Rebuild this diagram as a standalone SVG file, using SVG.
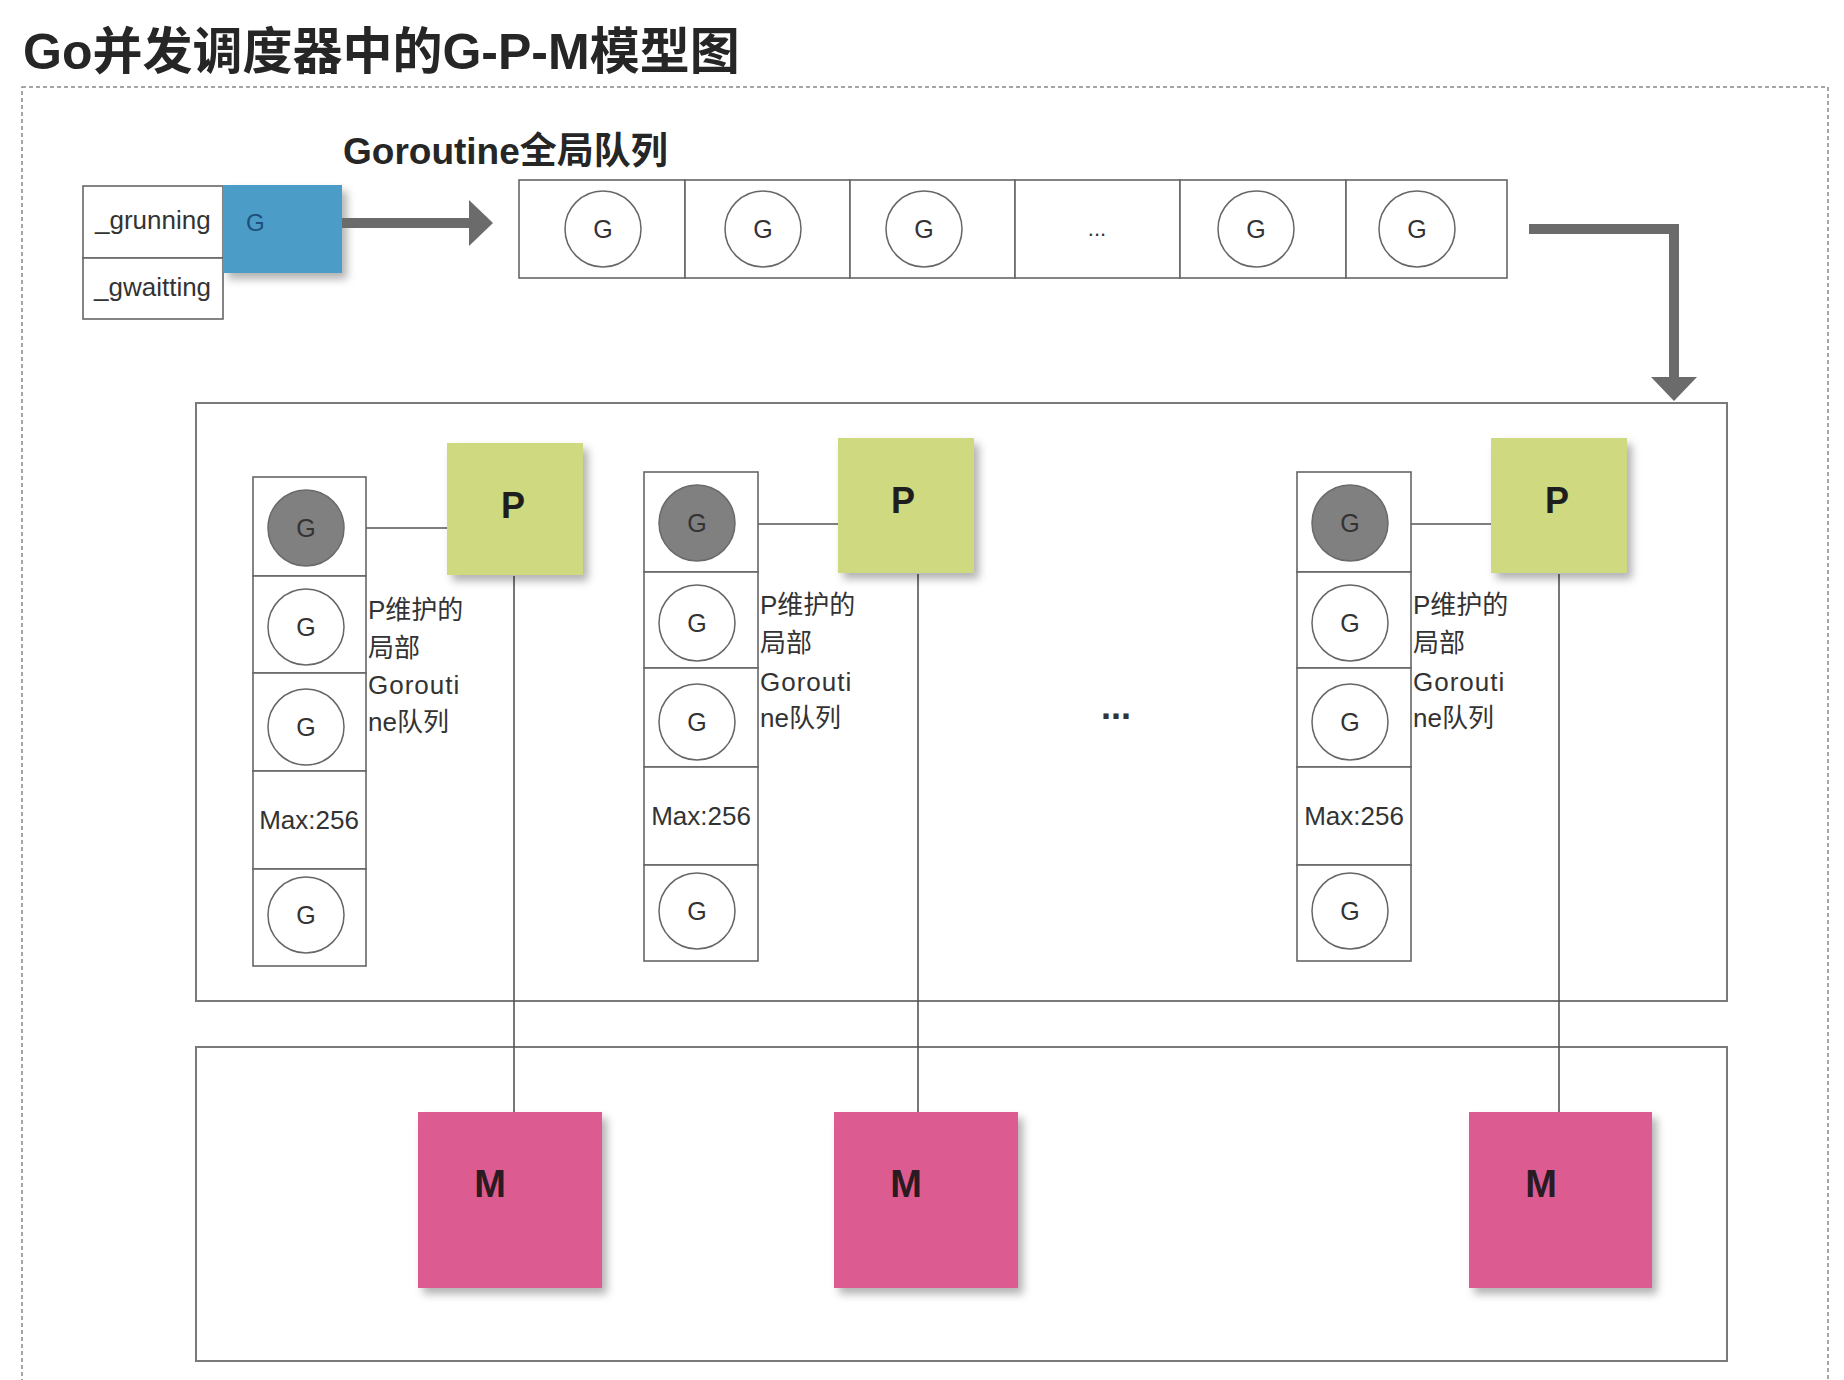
<svg xmlns="http://www.w3.org/2000/svg" width="1844" height="1380" viewBox="0 0 1844 1380">
<defs>
<filter id="sh" x="-20%" y="-20%" width="150%" height="150%">
<feDropShadow dx="5" dy="6" stdDeviation="4" flood-color="#000" flood-opacity="0.3"/>
</filter>
<style>
text{font-family:"Liberation Sans","Noto Sans CJK SC",sans-serif;fill:#333}
.cell{fill:#fff;stroke:#666;stroke-width:1.6}
.g{fill:#fff;stroke:#666;stroke-width:1.5}
.gd{fill:#808080;stroke:#6a6a6a;stroke-width:1.5}
.gt{font-size:25px;text-anchor:middle}
.frame{fill:none;stroke:#7a7a7a;stroke-width:2}
.lbl{font-size:26px}
.p{fill:#cfd97f;filter:url(#sh)}
.m{fill:#dc5b91;filter:url(#sh)}
.pt{font-size:36px;font-weight:bold;fill:#1e1e1e;text-anchor:middle}
.mt{font-size:38px;font-weight:bold;fill:#2a1a22;text-anchor:middle}
.ln{stroke:#555;stroke-width:1.6;fill:none}
.arr{fill:#6b6b6b}
</style>
</defs>
<rect width="1844" height="1380" fill="#fff"/>

<g id="title">
<text x="23" y="69" font-size="50" font-weight="bold" fill="#262626" style="fill:#262626">Go并发调度器中的G-P-M模型图</text>
</g>

<g id="outer-frame">
<rect x="22" y="87" width="1806" height="1320" fill="none" stroke="#888" stroke-width="1.5" stroke-dasharray="4 3"/>
</g>

<g id="status-table">
<rect class="cell" x="83" y="186" width="140" height="72"/>
<rect class="cell" x="83" y="258" width="140" height="61"/>
<text x="95" y="229" font-size="26">_grunning</text>
<text x="94" y="296" font-size="26">_gwaitting</text>
</g>

<g id="running-g">
<rect x="223" y="185" width="119" height="88" fill="#4b9cc7" filter="url(#sh)"/>
<text x="246" y="231" font-size="24" style="fill:#1d4f7c">G</text>
</g>

<g id="global-queue-label">
<text x="343" y="164" font-size="37" font-weight="bold" style="fill:#262626">Goroutine全局队列</text>
</g>

<g id="global-queue">
<rect class="cell" x="519" y="180" width="166" height="98"/>
<rect class="cell" x="685" y="180" width="165" height="98"/>
<rect class="cell" x="850" y="180" width="165" height="98"/>
<rect class="cell" x="1015" y="180" width="165" height="98"/>
<rect class="cell" x="1180" y="180" width="166" height="98"/>
<rect class="cell" x="1346" y="180" width="161" height="98"/>
<circle class="g" cx="603" cy="229" r="38"/>
<circle class="g" cx="763" cy="229" r="38"/>
<circle class="g" cx="924" cy="229" r="38"/>
<circle class="g" cx="1256" cy="229" r="38"/>
<circle class="g" cx="1417" cy="229" r="38"/>
<text class="gt" x="603" y="238">G</text>
<text class="gt" x="763" y="238">G</text>
<text class="gt" x="924" y="238">G</text>
<text class="gt" x="1256" y="238">G</text>
<text class="gt" x="1417" y="238">G</text>
<text x="1097" y="236" font-size="22" text-anchor="middle">...</text>
</g>

<g id="p-area">
<rect class="frame" x="196" y="403" width="1531" height="598"/>
</g>
<g id="m-area">
<rect class="frame" x="196" y="1047" width="1531" height="314"/>
</g>

<g id="connectors">
<rect class="arr" x="342" y="218" width="130" height="10"/>
<polygon class="arr" points="469,200 493,223 469,246"/>
<polygon class="arr" points="1529,224 1679,224 1679,378 1669,378 1669,234 1529,234"/>
<polygon class="arr" points="1651,377 1697,377 1674,401"/>
<line class="ln" x1="366" y1="528" x2="447" y2="528"/>
<line class="ln" x1="758" y1="524" x2="838" y2="524"/>
<line class="ln" x1="1411" y1="524" x2="1491" y2="524"/>
<line class="ln" x1="514" y1="576" x2="514" y2="1112"/>
<line class="ln" x1="918" y1="574" x2="918" y2="1112"/>
<line class="ln" x1="1559" y1="574" x2="1559" y2="1112"/>
</g>

<g id="local-queue-1">
<rect class="cell" x="253" y="477" width="113" height="99"/>
<rect class="cell" x="253" y="576" width="113" height="97"/>
<rect class="cell" x="253" y="673" width="113" height="98"/>
<rect class="cell" x="253" y="771" width="113" height="98"/>
<rect class="cell" x="253" y="869" width="113" height="97"/>
<circle class="gd" cx="306" cy="528" r="38"/>
<circle class="g" cx="306" cy="627" r="38"/>
<circle class="g" cx="306" cy="727" r="38"/>
<circle class="g" cx="306" cy="915" r="38"/>
<text class="gt" x="306" y="537">G</text>
<text class="gt" x="306" y="636">G</text>
<text class="gt" x="306" y="736">G</text>
<text class="gt" x="306" y="924">G</text>
<text x="309" y="829" font-size="26" text-anchor="middle">Max:256</text>
<text class="lbl" x="368" y="619">P维护的</text>
<text class="lbl" x="368" y="657">局部</text>
<text class="lbl" x="368" y="694" letter-spacing="1">Gorouti</text>
<text class="lbl" x="368" y="731">ne队列</text>
</g>

<g id="local-queue-2">
<rect class="cell" x="644" y="472" width="114" height="100"/>
<rect class="cell" x="644" y="572" width="114" height="96"/>
<rect class="cell" x="644" y="668" width="114" height="99"/>
<rect class="cell" x="644" y="767" width="114" height="98"/>
<rect class="cell" x="644" y="865" width="114" height="96"/>
<circle class="gd" cx="697" cy="523" r="38"/>
<circle class="g" cx="697" cy="623" r="38"/>
<circle class="g" cx="697" cy="722" r="38"/>
<circle class="g" cx="697" cy="911" r="38"/>
<text class="gt" x="697" y="532">G</text>
<text class="gt" x="697" y="632">G</text>
<text class="gt" x="697" y="731">G</text>
<text class="gt" x="697" y="920">G</text>
<text x="701" y="825" font-size="26" text-anchor="middle">Max:256</text>
<text class="lbl" x="760" y="614">P维护的</text>
<text class="lbl" x="760" y="652">局部</text>
<text class="lbl" x="760" y="691" letter-spacing="1">Gorouti</text>
<text class="lbl" x="760" y="727">ne队列</text>
</g>

<g id="local-queue-3">
<rect class="cell" x="1297" y="472" width="114" height="100"/>
<rect class="cell" x="1297" y="572" width="114" height="96"/>
<rect class="cell" x="1297" y="668" width="114" height="99"/>
<rect class="cell" x="1297" y="767" width="114" height="98"/>
<rect class="cell" x="1297" y="865" width="114" height="96"/>
<circle class="gd" cx="1350" cy="523" r="38"/>
<circle class="g" cx="1350" cy="623" r="38"/>
<circle class="g" cx="1350" cy="722" r="38"/>
<circle class="g" cx="1350" cy="911" r="38"/>
<text class="gt" x="1350" y="532">G</text>
<text class="gt" x="1350" y="632">G</text>
<text class="gt" x="1350" y="731">G</text>
<text class="gt" x="1350" y="920">G</text>
<text x="1354" y="825" font-size="26" text-anchor="middle">Max:256</text>
<text class="lbl" x="1413" y="614">P维护的</text>
<text class="lbl" x="1413" y="652">局部</text>
<text class="lbl" x="1413" y="691" letter-spacing="1">Gorouti</text>
<text class="lbl" x="1413" y="727">ne队列</text>
</g>

<g id="ellipsis">
<text x="1116" y="719" font-size="36" font-weight="bold" text-anchor="middle">...</text>
</g>

<g id="p1"><rect class="p" x="447" y="443" width="136" height="132"/><text class="pt" x="513" y="518">P</text></g>
<g id="p2"><rect class="p" x="838" y="438" width="136" height="135"/><text class="pt" x="903" y="513">P</text></g>
<g id="p3"><rect class="p" x="1491" y="438" width="136" height="135"/><text class="pt" x="1557" y="513">P</text></g>

<g id="m1"><rect class="m" x="418" y="1112" width="184" height="176"/><text class="mt" x="490" y="1197">M</text></g>
<g id="m2"><rect class="m" x="834" y="1112" width="184" height="176"/><text class="mt" x="906" y="1197">M</text></g>
<g id="m3"><rect class="m" x="1469" y="1112" width="183" height="176"/><text class="mt" x="1541" y="1197">M</text></g>
</svg>
